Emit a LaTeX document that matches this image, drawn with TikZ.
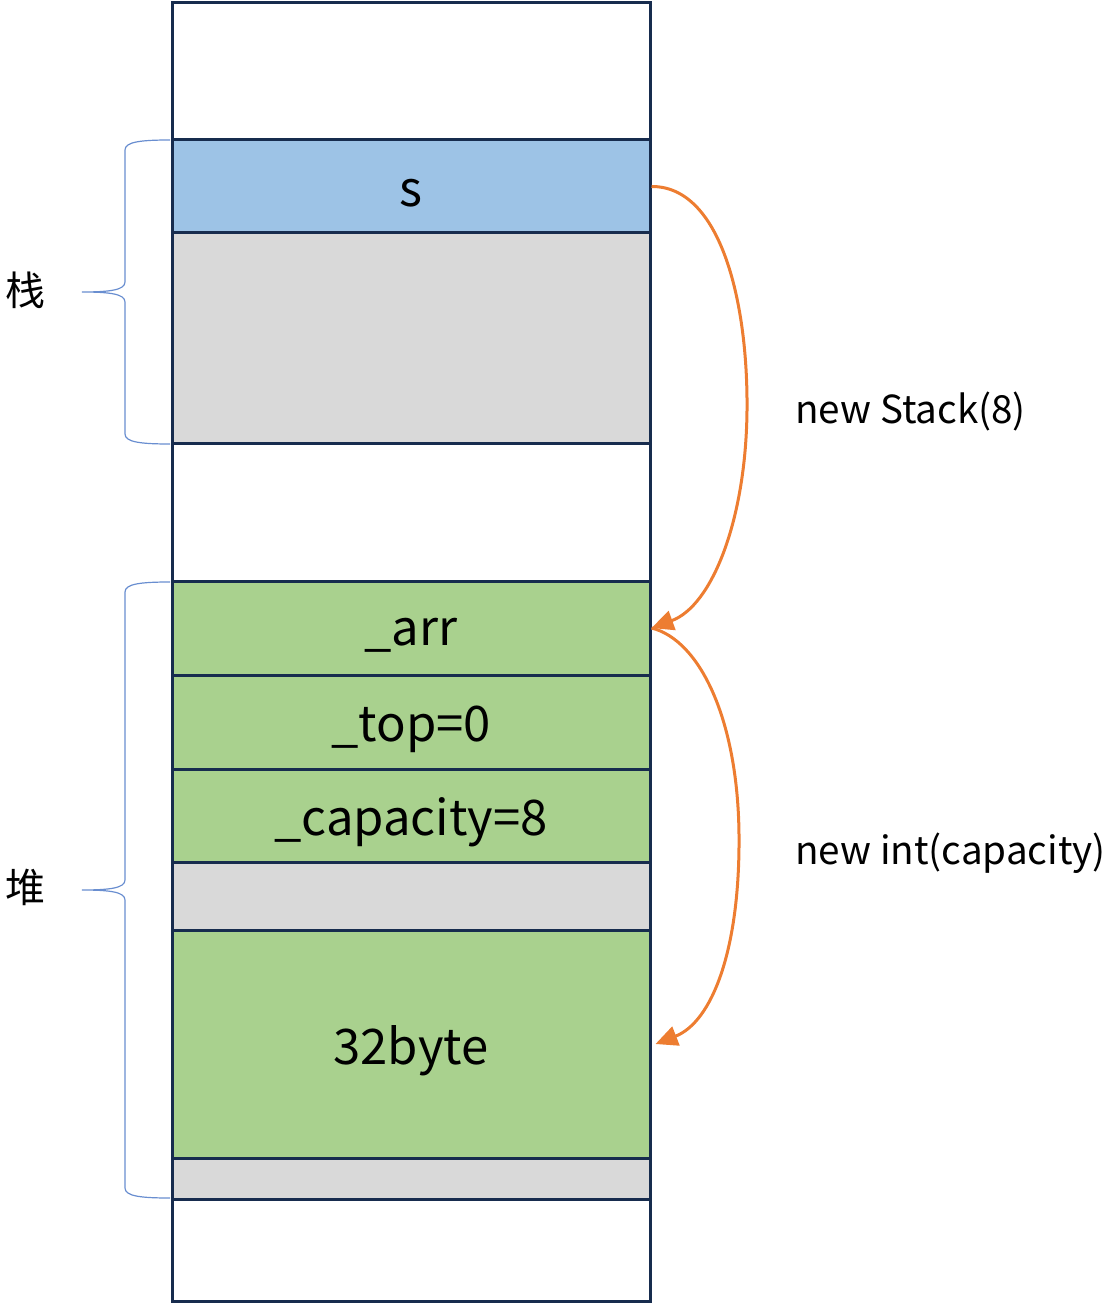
\documentclass[tikz,border=0pt]{standalone}
\usepackage{fontspec}
\setmainfont{Noto Sans CJK SC}
\usetikzlibrary{arrows.meta}
\definecolor{cellborder}{HTML}{172C4E}
\definecolor{cblue}{HTML}{9DC3E6}
\definecolor{cgray}{HTML}{D9D9D9}
\definecolor{cgreen}{HTML}{A9D18E}
\definecolor{corange}{HTML}{ED7D31}
\definecolor{cbrace}{HTML}{4472C4}
\newcommand\lowtext[1]{\raisebox{-3.5pt}[\height][\depth]{#1}}
\begin{document}
\begin{tikzpicture}[x=0.5pt,y=-0.5pt,
  cell/.style={draw=cellborder,line width=1.5pt,minimum width=239pt,inner sep=0pt,font=\fontsize{24.5}{29}\selectfont},
  sidelabel/.style={inner sep=0pt,anchor=west,font=\fontsize{19.3}{23}\selectfont},
  hanlabel/.style={inner sep=0pt,font=\fontsize{20}{24}\selectfont},
  brace/.style={draw=cbrace!80,line width=0.6pt},
  flow/.style={draw=corange,line width=1.5pt,-{Triangle[length=11pt,width=10pt]}}]
\useasboundingbox (0,0) rectangle (1108,1309);
% cells
\node[cell,fill=white,minimum height=68.5pt] (w1) at (411,71.5) {};
\node[cell,fill=cblue,minimum height=46.5pt] (s) at (411,186.5) {\lowtext{s}};
\node[cell,fill=cgray,minimum height=105.5pt] (g1) at (411,338.5) {};
\node[cell,fill=white,minimum height=68.5pt] (w2) at (411,512.5) {};
\node[cell,fill=cgreen,minimum height=47pt] (arr) at (411,628) {\lowtext{\_arr}};
\node[cell,fill=cgreen,minimum height=47pt] (top) at (411,722) {\lowtext{\_top=0}};
\node[cell,fill=cgreen,minimum height=46.5pt] (cap) at (411,815.5) {\lowtext{\_capacity=8}};
\node[cell,fill=cgray,minimum height=34pt] (g2) at (411,896) {};
\node[cell,fill=cgreen,minimum height=114pt] (byte) at (411,1044) {\lowtext{32byte}};
\node[cell,fill=cgray,minimum height=20.5pt] (g3) at (411,1178.5) {};
\node[cell,fill=white,minimum height=51pt] (w3) at (411,1250) {};
% labels
\node[hanlabel] (zhan) at (25,290) {栈};
\node[hanlabel] (dui) at (25,887) {堆};
\node[sidelabel] (l1) at (795,411) {new Stack(8)};
\node[sidelabel] (l2) at (795,853) {new int(capacity)};
% braces
\draw[brace] (170,140) .. controls (140,140) and (125,142) .. (125,150)
  -- (125,282) .. controls (125,290) and (110,292) .. (82,292)
  .. controls (110,292) and (125,294) .. (125,302)
  -- (125,434) .. controls (125,442) and (140,444) .. (170,444);
\draw[brace] (170,582) .. controls (140,582) and (125,584) .. (125,592)
  -- (125,880) .. controls (125,888) and (110,890) .. (82,890)
  .. controls (110,890) and (125,892) .. (125,900)
  -- (125,1188) .. controls (125,1196) and (140,1198) .. (170,1198);
% arrows
\coordinate (m1) at (747,410);
\coordinate (m2) at (739,835);
\draw[flow] (s.east) .. controls (720,186) and (748,300) .. (m1)
  .. controls (746,520) and (712,606) .. (arr.east);
\draw[flow] (arr.east) .. controls (700,640) and (738,720) .. (m2)
  .. controls (740,950) and (712,1022) .. ([xshift=2pt]byte.east);
\end{tikzpicture}
\end{document}
